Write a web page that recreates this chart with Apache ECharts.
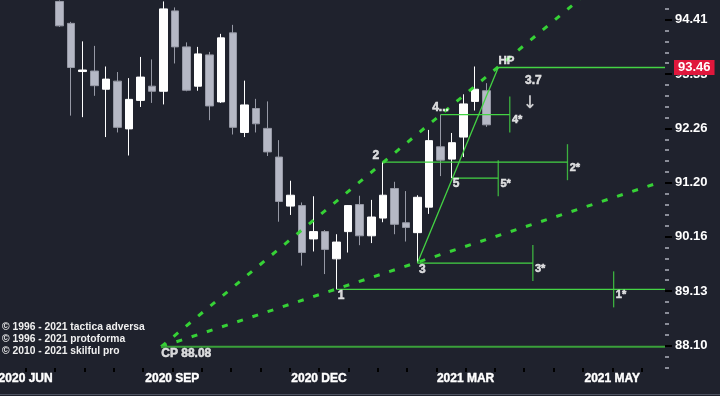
<!DOCTYPE html>
<html><head><meta charset="utf-8">
<script src="https://cdn.jsdelivr.net/npm/echarts@6/dist/echarts.min.js"></script>
<style>html,body{margin:0;padding:0;background:#1f222d}#c{width:720px;height:396px}</style>
</head><body><div id="c"></div>
<script>
// ---------------- data ----------------
// one row per bar: [open, close, low, high]
const ohlc = [
  [94.78, 94.29, 94.27, 94.80],
  [94.34, 93.46, 92.51, 94.37],
  [93.38, 93.41, 92.48, 93.98],
  [93.39, 93.10, 92.90, 93.89],
  [93.03, 93.23, 92.09, 93.48],
  [93.19, 92.28, 92.18, 93.37],
  [92.25, 92.83, 91.73, 93.25],
  [92.81, 93.27, 92.68, 93.67],
  [93.09, 92.99, 92.76, 93.62],
  [92.99, 94.63, 92.73, 94.78],
  [94.59, 93.87, 93.54, 94.66],
  [93.87, 93.01, 92.99, 93.96],
  [93.09, 93.73, 93.00, 93.87],
  [93.71, 92.70, 92.42, 93.77],
  [92.78, 94.05, 92.76, 94.13],
  [94.15, 92.28, 92.14, 94.31],
  [92.18, 92.72, 92.09, 93.20],
  [92.65, 92.35, 92.18, 92.84],
  [92.26, 91.80, 91.72, 92.79],
  [91.70, 90.84, 90.45, 92.03],
  [90.75, 90.96, 90.58, 91.24],
  [90.76, 89.86, 89.61, 90.82],
  [90.12, 90.26, 89.88, 90.94],
  [90.26, 89.92, 89.45, 90.29],
  [89.74, 90.06, 89.16, 90.21],
  [90.26, 90.76, 89.86, 90.77],
  [90.78, 90.18, 90.00, 90.95],
  [90.18, 90.54, 90.04, 90.87],
  [90.52, 90.96, 90.44, 91.60],
  [91.09, 90.40, 90.21, 91.22],
  [90.43, 90.34, 90.07, 91.04],
  [90.24, 90.92, 89.66, 90.96],
  [90.73, 92.02, 90.60, 92.23],
  [91.90, 91.64, 91.33, 92.53],
  [91.66, 91.98, 91.29, 92.17],
  [92.09, 92.74, 91.70, 92.93],
  [92.79, 93.03, 92.61, 93.48],
  [93.00, 92.33, 92.29, 93.15]
];
const xTickLabels = ['2020 JUN', '2020 SEP', '2020 DEC', '2021 MAR', '2021 MAY'];
const xTickLabelBars = [-2.95, 9.76, 22.47, 35.17, 47.88];
const yTickLabels = [88.10, 89.13, 90.16, 91.20, 92.26, 93.33, 94.41];

const cpBar = 8.8, cpPrice = 88.08;
const pivotNames = ['1', '2', '3', '4...', '5'];
const pivotBars = [24, 28, 31, 33, 34];
const pivotPrices = [89.16, 91.60, 89.66, 92.53, 91.29];
const targetNames = ['1*', '2*', '3*', '4*', '5*'];
const targetBars = [48, 44, 41, 39, 38];
const hpName = 'HP', hpBar = 38, hpPrice = 93.46;
const fanEndBars = [45.5, 51.6];
const fanEndPrices = [94.91, 91.18];
const noteText = '3.7', noteBar = 41.04, notePrice = 93.19;
const arrowText = '\u2193', arrowBar = 40.75, arrowPrice = 92.74;
const copyrights = ['\u00a9 1996 - 2021 tactica adversa', '\u00a9 1996 - 2021 protoforma', '\u00a9 2010 - 2021 skilful pro'];

// ---------------- layout / style ----------------
const xMin = -5.17, xMax = 52.45;
const yMinPrice = 87.684, yMaxPrice = 94.809;
const FONT = "'Liberation Sans', Arial, sans-serif";
const GREEN_DASH = '#36d236', GREEN = '#44d444', GREEN_CP = '#3aa03a';
const Lg = Math.log;

const pivotLabelStyle = {
  '1': [4.5, 6], '2': [-7, -7], '3': [5, 6.5], '4...': [0, -6.5], '5': [4, 6]
};
const heavy = { color: '#ffffff', textBorderColor: '#ffffff', textBorderWidth: 0.5, fontFamily: FONT, fontWeight: 'bold' };

// x ticks: 5 subdivisions between labelled positions
const xTicks = [];
for (let k = 0; k < xTickLabelBars.length - 1; k++) {
  const a = xTickLabelBars[k], b = xTickLabelBars[k + 1];
  for (let j = 0; j < 5; j++) xTicks.push(a + (b - a) * j / 5);
}
xTicks.push(xTickLabelBars[xTickLabelBars.length - 1]);
xTicks.push(xTickLabelBars[4] + (xTickLabelBars[4] - xTickLabelBars[3]) / 5);

// y ticks in log space
const yMajor = yTickLabels.map(Lg);
const yMinor = [];
const stepLow = (yMajor[1] - yMajor[0]) / 5;
for (let j = 1; j < 4; j++) yMinor.push(yMajor[0] - stepLow * j);
for (let k = 0; k < yMajor.length - 1; k++) {
  const a = yMajor[k], b = yMajor[k + 1];
  for (let j = 1; j < 5; j++) yMinor.push(a + (b - a) * j / 5);
}
const stepHi = (yMajor[yMajor.length - 1] - yMajor[yMajor.length - 2]) / 5;
for (let j = 1; j < 4; j++) yMinor.push(yMajor[yMajor.length - 1] + stepHi * j);
const yLo = Lg(yMinPrice), yHi = Lg(yMaxPrice);
const yMinorIn = yMinor.filter(v => v > yLo && v < yHi);

const series = [];
series.push({
  type: 'candlestick',
  data: ohlc.map((d, i) => [i, Lg(d[0]), Lg(d[1]), Lg(d[2]), Lg(d[3])]),
  encode: { x: 0, y: [1, 2, 3, 4] },
  barWidth: 8,
  itemStyle: { color: '#ffffff', color0: '#b5b8c5', borderColor: '#ffffff', borderColor0: '#9699a5', borderWidth: 1 },
  silent: true,
  z: 2
});

function seg(points, lineStyle, extra) {
  series.push(Object.assign({
    type: 'line',
    data: points.map(p => [p[0], Lg(p[1])]),
    symbol: 'none', silent: true, z: 4,
    lineStyle: lineStyle
  }, extra || {}));
}

// fan (dashed) lines from CP
for (let k = 0; k < fanEndBars.length; k++) {
  seg([[cpBar, cpPrice], [fanEndBars[k], fanEndPrices[k]]], { color: GREEN_DASH, width: 3, type: [6, 10] });
}
// CP horizontal
seg([[cpBar, cpPrice], [xMax, cpPrice]], { color: GREEN_CP, width: 2 });
// pivot horizontals
for (let k = 0; k < pivotBars.length; k++) {
  const end = k === 0 ? xMax : targetBars[k];
  seg([[pivotBars[k], pivotPrices[k]], [end, pivotPrices[k]]], { color: GREEN, width: 1.3 });
}
// 3 -> HP
seg([[pivotBars[2], pivotPrices[2]], [hpBar, hpPrice]], { color: GREEN, width: 1.3 });
// HP horizontal with price tag
seg([[hpBar, hpPrice], [xMax, hpPrice]], { color: GREEN, width: 1.5 }, {
  endLabel: {
    show: true, formatter: hpPrice.toFixed(2), distance: 9,
    backgroundColor: '#e0173c', color: '#ffffff', fontFamily: FONT, fontWeight: 'bold', fontSize: 13,
    padding: [1, 4, 0, 4], lineHeight: 14
  }
});

// target markers (vertical ticks) with labels
series.push({
  type: 'scatter', silent: true, z: 5,
  symbol: 'rect', symbolSize: [1.3, 36],
  itemStyle: { color: GREEN },
  data: targetBars.map((b, k) => ({ value: [b, Lg(pivotPrices[k])], name: targetNames[k] })),
  label: Object.assign({
    show: true, position: 'right', distance: 1.5, offset: [0, 5.5],
    formatter: p => p.name, fontSize: 11
  }, heavy)
});

// pivot labels and notes (invisible points carrying text)
const textItems = [];
pivotNames.forEach((n, k) => {
  const off = pivotLabelStyle[n];
  textItems.push({ value: [pivotBars[k], Lg(pivotPrices[k])], name: n,
    label: { offset: off, fontSize: 12 } });
});
textItems.push({ value: [hpBar, Lg(hpPrice)], name: hpName, label: { offset: [8.3, -6.6], fontSize: 11.5 } });
textItems.push({ value: [cpBar, Lg(cpPrice)], name: 'CP ' + cpPrice.toFixed(2), label: { align: 'left', offset: [0, 6.5], fontSize: 12 } });
textItems.push({ value: [noteBar, Lg(notePrice)], name: noteText, label: { fontSize: 12 } });
textItems.push({ value: [arrowBar, Lg(arrowPrice)], name: arrowText,
  label: { fontSize: 17, fontFamily: "'DejaVu Sans', sans-serif", fontWeight: 'normal', textBorderWidth: 0.2 } });
series.push({
  type: 'scatter', silent: true, z: 6,
  symbolSize: 1, itemStyle: { color: 'rgba(0,0,0,0)' },
  data: textItems,
  label: Object.assign({ show: true, position: 'inside', formatter: p => p.name }, heavy)
});

const option = {
  backgroundColor: '#1f222d',
  animation: false,
  textStyle: { fontFamily: FONT },
  grid: { left: 0, right: 55, top: 0, bottom: 28, containLabel: false, outerBoundsMode: 'none' },
  xAxis: {
    type: 'value', min: xMin, max: xMax,
    axisLine: { show: false, onZero: false }, splitLine: { show: false },
    axisTick: { show: true, customValues: xTicks, length: 4, lineStyle: { color: '#000000', width: 2 } },
    axisLabel: {
      show: true, customValues: xTickLabelBars, margin: 5, hideOverlap: false,
      formatter: v => { let best = 0; xTickLabelBars.forEach((b, i) => { if (Math.abs(b - v) < Math.abs(xTickLabelBars[best] - v)) best = i; }); return xTickLabels[best]; },
      color: '#ffffff', fontWeight: 'bold', fontSize: 12, fontFamily: FONT, textBorderColor: '#ffffff', textBorderWidth: 0.4
    }
  },
  yAxis: [{
    type: 'value', position: 'right', min: yLo, max: yHi,
    axisLine: { show: false, onZero: false }, splitLine: { show: false },
    axisTick: { show: true, customValues: yMajor, length: 7, lineStyle: { color: '#000000', width: 2 } },
    axisLabel: { show: true, customValues: yMajor, margin: 10, formatter: v => Math.exp(v).toFixed(2),
      color: '#ffffff', fontWeight: 'bold', fontSize: 13, fontFamily: FONT }
  }, {
    type: 'value', position: 'right', min: yLo, max: yHi,
    axisLine: { show: false, onZero: false }, splitLine: { show: false },
    axisTick: { show: true, customValues: yMinorIn, length: 4, lineStyle: { color: '#8a8d98', width: 2 } },
    axisLabel: { show: false }
  }],
  graphic: copyrights.map((t, k) => ({
    type: 'text', left: 2, top: 322.5 + k * 11.8, silent: true,
    style: { text: t, fill: '#f0f0f0', font: "bold 10.3px 'Liberation Sans', Arial, sans-serif" }
  })).concat([{ type: 'rect', silent: true, shape: { x: 0, y: 394, width: 720, height: 1 }, style: { fill: '#4d5260' } }]),
  series: series
};
const chart = echarts.init(document.getElementById('c'), null, { renderer: 'canvas' });
chart.setOption(option);
</script></body></html>
